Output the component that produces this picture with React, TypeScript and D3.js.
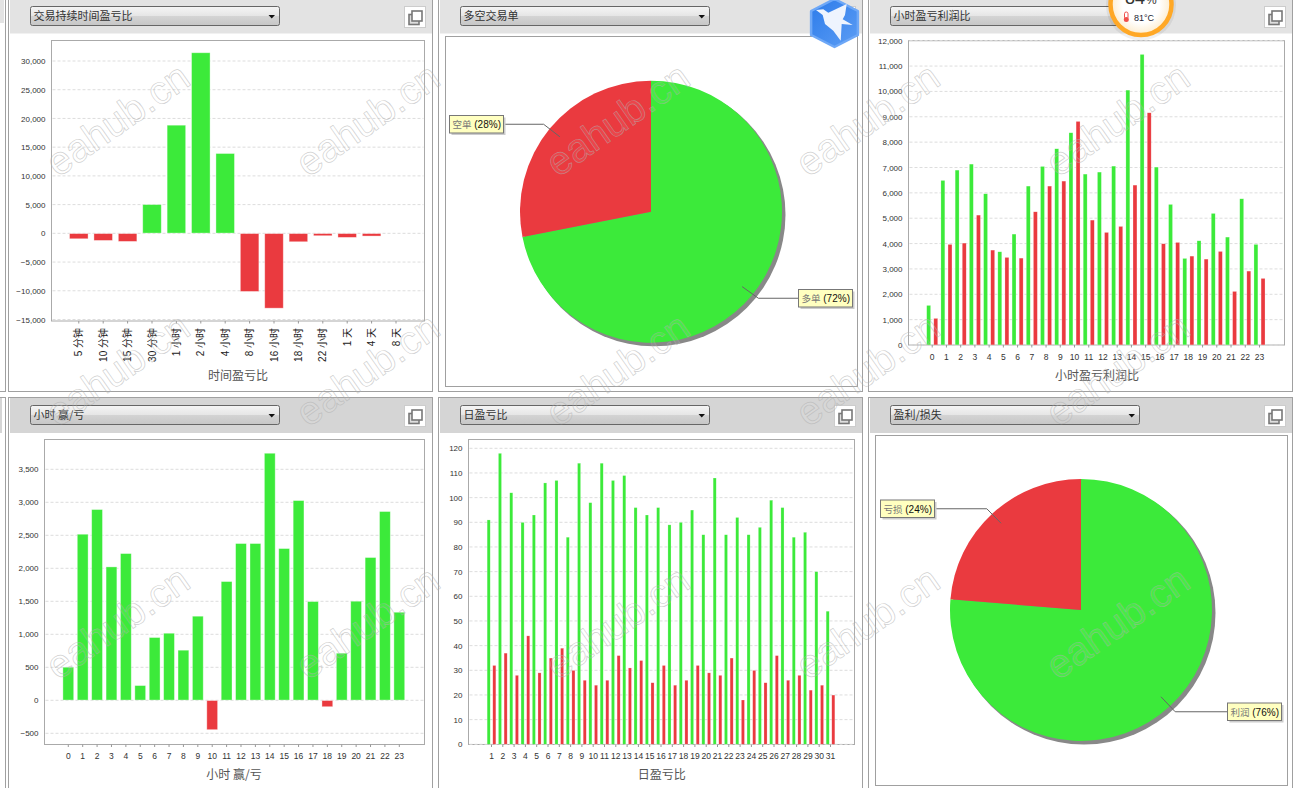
import * as d3 from "d3";
import { useEffect, useRef } from "react";

const GREEN = "#3cea3a";
const RED = "#ea3a3f";
const FONT = "'Liberation Sans', Arial, 'Noto Sans CJK SC', sans-serif";
const CJK = "'Noto Sans CJK SC', 'Liberation Sans', sans-serif";

// 时间盈亏比
const durationLabels = ["5 分钟", "10 分钟", "15 分钟", "30 分钟", "1 小时", "2 小时", "4 小时", "8 小时", "16 小时", "18 小时", "22 小时", "1 天", "4 天", "8 天"];
const durationValues = [-990, -1280, -1450, 5050, 18870, 31480, 13940, -10160, -13070, -1510, -460, -750, -520, 0];
const durationTicks = [-15000, -10000, -5000, 0, 5000, 10000, 15000, 20000, 25000, 30000];

// 小时
const hours = d3.range(0, 24).map(String);
const hourProfit = [1564, 6493, 6900, 7137, 5967, 3680, 4377, 6270, 7045, 7742, 8373, 6743, 6822, 7058, 10055, 11462, 7019, 5547, 3417, 4114, 5192, 4259, 5770, 3970];
const hourLoss = [1052, 3970, 4022, 5126, 3746, 3457, 3430, 5257, 6270, 6467, 8820, 4929, 4443, 4679, 6309, 9161, 3996, 4048, 3509, 3391, 3693, 2116, 2918, 2629];
const hourProfitTicks = d3.range(0, 13).map((d) => d * 1000);

const hourNet = [505, 2520, 2894, 2025, 2227, 227, 955, 1020, 763, 1278, -449, 1803, 2379, 2379, 3747, 2303, 3030, 1500, -101, 717, 1505, 2167, 2864, 1338];
const hourNetTicks = [-500, 0, 500, 1000, 1500, 2000, 2500, 3000, 3500];

// 日
const days = d3.range(1, 32).map(String);
const dayWins = [91, 118, 102, 90, 93, 106, 107, 84, 114, 98, 114, 107, 109, 96, 93, 96, 89, 90, 95, 85, 108, 85, 92, 85, 88, 99, 96, 84, 86, 70, 54];
const dayLosses = [32, 37, 28, 44, 29, 35, 39, 30, 26, 24, 26, 36, 31, 34, 25, 32, 24, 26, 32, 29, 28, 35, 18, 30, 25, 36, 26, 28, 22, 24, 20];
const dayTicks = d3.range(0, 13).map((d) => d * 10);

// 饼图
const longShortNames = ["多单", "空单"];
const longShortValues = [71.9, 28.1];
const profitLossNames = ["利润", "亏损"];
const profitLossValues = [76.3, 23.7];

const panelX = [8.5, 438.5, 868.5];
const selectTitles = [
  ["交易持续时间盈亏比", "多空交易单", "小时盈亏利润比"],
  ["小时 赢/亏", "日盈亏比", "盈利/损失"],
];
const watermarkX = [58, 308, 558, 808, 1058];
const watermarkY = [178, 428, 681];

const width = 1295;
const height = 788;

type Sel = d3.Selection<any, any, any, any>;

function drawFrame(svg: Sel, x0: number, row: number, title: string, showSelectArrow = true) {
  const top = row === 0 ? -2 : 397.5;
  const headTop = row === 0 ? 0 : 398;
  const headH = row === 0 ? 33.5 : 35;
  const selectY = row === 0 ? 6.5 : 405.5;
  const g = svg.append("g");
  g.append("rect").attr("x", x0).attr("y", top).attr("width", 424).attr("height", row === 0 ? 393.5 : 400).attr("fill", "#fff").attr("stroke", "#a0a0a0");
  g.append("rect").attr("x", x0 + 1.5).attr("y", headTop).attr("width", 422).attr("height", headH).attr("fill", row === 0 ? "#e3e3e3" : "#d5d5d5");
  g.append("rect").attr("x", x0 + 22).attr("y", selectY).attr("width", 249).attr("height", 19).attr("rx", 2).attr("fill", "url(#selectGrad)").attr("stroke", "#666");
  g.append("text").attr("x", x0 + 25).attr("y", selectY + 13.5).attr("font-family", CJK).attr("font-size", 11).attr("fill", "#333").text(title);
  if (showSelectArrow) {
    const ax = x0 + 260;
    const ay = selectY + 8.5;
    g.append("path").attr("d", d3.line()([[ax, ay], [ax + 6.5, ay], [ax + 3.25, ay + 3.5]]) + "Z").attr("fill", "#111");
  }
  // copy button
  const bx = x0 + 396;
  const by = selectY;
  g.append("rect").attr("x", bx).attr("y", by).attr("width", 21).attr("height", 21).attr("fill", "#fff").attr("stroke", "#ccc");
  g.append("rect").attr("x", bx + 4.5).attr("y", by + 8).attr("width", 10).attr("height", 10).attr("fill", "#ddd").attr("stroke", "#777").attr("stroke-width", 1.6);
  g.append("rect").attr("x", bx + 7.5).attr("y", by + 4.5).attr("width", 10).attr("height", 10).attr("fill", "#fff").attr("stroke", "#777").attr("stroke-width", 1.6);
}

type BarOpts = {
  box: [number, number, number, number];
  xRange: [number, number];
  yRange: [number, number];
  categories: string[];
  series: number[][];
  yTicks: number[];
  padding: number;
  title: string;
  titleX: number;
  titleY: number;
  rotateLabels?: boolean;
  labelSize: number;
};

function drawBars(svg: Sel, o: BarOpts) {
  const [left, top, right, bottom] = o.box;
  const g = svg.append("g");
  const grouped = o.series.length > 1;

  const x = d3.scaleBand<string>().domain(o.categories).range(o.xRange).paddingInner(o.padding).paddingOuter(o.padding / 2);
  const y = d3.scaleLinear().domain(d3.extent(o.yTicks) as [number, number]).range(o.yRange);
  const keys = o.series.map((_, i) => String(i));
  const inner = d3.scaleBand<string>().domain(keys).range([0, x.bandwidth()]).paddingInner(grouped ? 0.42 : 0).paddingOuter(grouped ? 0.21 : 0);
  const inset = grouped ? 0.1 : 0.25;

  g.append("rect").attr("x", left).attr("y", top).attr("width", right - left).attr("height", bottom - top).attr("fill", "#fff").attr("stroke", "#aaa");

  g.append("g")
    .selectAll("line")
    .data(o.yTicks)
    .join("line")
    .attr("x1", left + 1)
    .attr("x2", right - 1)
    .attr("y1", (d) => y(d))
    .attr("y2", (d) => y(d))
    .attr("stroke", "#ddd")
    .attr("stroke-dasharray", "3 2");

  o.series.forEach((values, i) => {
    g.append("g")
      .selectAll("rect")
      .data(values)
      .join("rect")
      .attr("x", (_, j) => x(o.categories[j])! + inner(keys[i])! + inset)
      .attr("y", (d) => Math.min(y(d), y(0)) + inset)
      .attr("width", inner.bandwidth() - inset * 2)
      .attr("height", (d) => Math.max(Math.abs(y(d) - y(0)) - inset * 2, 0))
      .attr("fill", (d) => (grouped ? (i === 0 ? GREEN : RED) : d >= 0 ? GREEN : RED))
      .attr("stroke", "#fff")
      .attr("stroke-width", grouped ? 0.5 : 0.8)
      .attr("stroke-opacity", (d) => (d === 0 ? 0 : 0.45));
  });

  const yAxis = g.append("g")
    .attr("transform", `translate(${left},0)`)
    .call(d3.axisLeft(y).tickValues(o.yTicks).tickSize(0).tickPadding(6).tickFormat(d3.format(",") as any));
  yAxis.select(".domain").remove();
  yAxis.selectAll("text").attr("font-family", FONT).attr("font-size", 8).attr("fill", "#333");

  const xAxis = g.append("g")
    .attr("transform", `translate(0,${bottom})`)
    .call(d3.axisBottom(x).tickSize(2.5).tickPadding(6));
  xAxis.select(".domain").remove();
  xAxis.selectAll("line").attr("stroke", "#999");
  const labels = xAxis.selectAll("text").attr("font-family", FONT).attr("font-size", o.labelSize).attr("fill", "#333");
  if (o.rotateLabels) {
    labels.attr("transform", "rotate(-90)").attr("text-anchor", "end").attr("x", -7).attr("y", 0).attr("dy", "0.35em").attr("fill", "#222");
  }

  g.append("text")
    .attr("x", o.titleX)
    .attr("y", o.titleY)
    .attr("text-anchor", "middle")
    .attr("dominant-baseline", "middle")
    .attr("font-family", CJK)
    .attr("font-size", 12)
    .attr("fill", "#555")
    .text(o.title);
}

type PieOpts = {
  box: [number, number, number, number];
  cx: number;
  cy: number;
  names: string[];
  values: number[];
  labelBoxes: [number, number][];
};

function drawPie(svg: Sel, o: PieOpts) {
  const [left, top, right, bottom] = o.box;
  const r = 131;
  const g = svg.append("g");
  g.append("rect").attr("x", left).attr("y", top).attr("width", right - left).attr("height", bottom - top).attr("fill", "#fff").attr("stroke", "#a0a0a0");

  const pie = d3.pie<number>().sort(null)(o.values);
  const arc = d3.arc<d3.PieArcDatum<number>>().innerRadius(0).outerRadius(r);
  const anchor = d3.arc<d3.PieArcDatum<number>>().innerRadius(118).outerRadius(118);
  const elbow = d3.arc<d3.PieArcDatum<number>>().innerRadius(139).outerRadius(139);

  const chart = g.append("g").attr("transform", `translate(${o.cx},${o.cy})`);
  chart.append("circle").attr("cx", 3).attr("cy", 3).attr("r", r + 0.5).attr("fill", "#888");
  chart.append("g")
    .selectAll("path")
    .data(pie)
    .join("path")
    .attr("d", arc as any)
    .attr("fill", (_, i) => (i === 0 ? GREEN : RED));

  pie.forEach((slice, i) => {
    const a = anchor.centroid(slice);
    const e = elbow.centroid(slice);
    const [bx, by] = o.labelBoxes[i];
    const bw = 54;
    const bh = 17.5;
    const ly = by + bh / 2;
    const edgeX = bx + (i === 0 ? 0 : bw);
    // leader goes to the box's height, the elbow follows the box
    const points: [number, number][] = [
      [o.cx + a[0], o.cy + a[1]],
      [o.cx + e[0], ly],
      [edgeX, ly],
    ];
    g.append("path").attr("d", d3.line()(points)).attr("fill", "none").attr("stroke", "#666");
    g.append("rect").attr("x", bx + 2).attr("y", by + 2).attr("width", bw).attr("height", bh).attr("fill", "#ccc");
    g.append("rect").attr("x", bx).attr("y", by).attr("width", bw).attr("height", bh).attr("fill", "#ffffc0").attr("stroke", "#777");
    const t = g.append("text").attr("x", bx + 3).attr("y", by + 12.5).attr("font-family", FONT).attr("font-size", 10);
    t.append("tspan").attr("font-family", CJK).attr("font-size", 9.5).attr("fill", "#777").text(o.names[i]);
    t.append("tspan").attr("fill", "#111").text(` (${d3.format(".0f")(o.values[i])}%)`);
  });
}

function drawWatermarks(svg: Sel) {
  const g = svg.append("g").attr("pointer-events", "none");
  watermarkY.forEach((wy) => {
    watermarkX.forEach((wx) => {
      g.append("text")
        .attr("transform", `translate(${wx},${wy}) rotate(-35)`)
        .attr("font-family", "'Liberation Sans', Arial, sans-serif")
        .attr("font-size", 40)
        .attr("fill", "#fff")
        .attr("fill-opacity", 0.06)
        .attr("stroke", "#b0b0b0")
        .attr("stroke-opacity", 0.6)
        .attr("stroke-width", 0.7)
        .text("eahub.cn");
    });
  });
}

function drawWidgets(svg: Sel) {
  // 蜂鸟图标
  const hexCx = 834.5;
  const hexCy = 23;
  const hex = d3.range(6).map((i) => {
    const a = (Math.PI / 3) * i;
    return [hexCx + 27 * Math.sin(a), hexCy - 24 * Math.cos(a)] as [number, number];
  });
  const bird = svg.append("g");
  bird.append("path").attr("d", d3.line()(hex) + "Z").attr("fill", "url(#hexGrad)").attr("stroke", "#6ea8f7").attr("stroke-width", 2.5).attr("stroke-linejoin", "round");
  bird.append("path")
    .attr("d", "M816 10 L823.3 9.3 L828.3 12.7 L846.7 4 L845 15 L842.7 19.3 L852.7 25 L841.7 24 L840.7 40.7 L833.3 30.7 L825 24 L822.7 15 Z")
    .attr("fill", "#eef4fe");

  // 温度圆
  const cx = 1141;
  const cy = 4.5;
  const w = svg.append("g");
  w.append("circle").attr("cx", cx).attr("cy", cy + 1).attr("r", 35).attr("fill", "#000").attr("fill-opacity", 0.06);
  w.append("circle").attr("cx", cx).attr("cy", cy).attr("r", 30.5).attr("fill", "url(#tempGrad)").attr("stroke", "#ffa826").attr("stroke-width", 4.5);
  w.append("text").attr("x", cx - 16).attr("y", 4).attr("font-family", FONT).attr("font-size", 18).attr("fill", "#333").text("84");
  w.append("text").attr("x", cx + 5).attr("y", 4).attr("font-family", FONT).attr("font-size", 12).attr("fill", "#333").text("%");
  w.append("text").attr("x", cx - 7).attr("y", 20.5).attr("font-family", FONT).attr("font-size", 9).attr("fill", "#223").text("81°C");
  w.append("rect").attr("x", cx - 16.5).attr("y", 12).attr("width", 3.5).attr("height", 7).attr("rx", 1.7).attr("fill", "#fff").attr("stroke", "#f0504a");
  w.append("circle").attr("cx", cx - 14.7).attr("cy", 19.5).attr("r", 2.5).attr("fill", "#f0504a");
}

export default function App() {
  const svgRef = useRef<SVGSVGElement>(null);

  useEffect(() => {
    if (!svgRef.current) return;
    const svg = d3.select(svgRef.current);
    svg.selectAll("*").remove();

    const defs = svg.append("defs");
    const sg = defs.append("linearGradient").attr("id", "selectGrad").attr("x1", 0).attr("x2", 0).attr("y1", 0).attr("y2", 1);
    sg.append("stop").attr("offset", "0").attr("stop-color", "#f5f5f5");
    sg.append("stop").attr("offset", "0.48").attr("stop-color", "#e6e6e6");
    sg.append("stop").attr("offset", "0.5").attr("stop-color", "#d4d4d4");
    sg.append("stop").attr("offset", "1").attr("stop-color", "#c6c6c6");
    const hg = defs.append("linearGradient").attr("id", "hexGrad").attr("x1", 0).attr("x2", 1).attr("y1", 0).attr("y2", 1);
    hg.append("stop").attr("offset", "0").attr("stop-color", "#2c7bea");
    hg.append("stop").attr("offset", "1").attr("stop-color", "#5c9df4");
    const tg = defs.append("radialGradient").attr("id", "tempGrad");
    tg.append("stop").attr("offset", "0.6").attr("stop-color", "#fff");
    tg.append("stop").attr("offset", "1").attr("stop-color", "#fdeccd");

    // 左边露出的上一列
    svg.append("rect").attr("x", -10).attr("y", -2).attr("width", 15.5).attr("height", 393.5).attr("fill", "#fff").attr("stroke", "#a0a0a0");
    svg.append("rect").attr("x", -10).attr("y", 0).attr("width", 14).attr("height", 23).attr("fill", "#e3e3e3");
    svg.append("rect").attr("x", -10).attr("y", 397.5).attr("width", 15.5).attr("height", 400).attr("fill", "#fff").attr("stroke", "#a0a0a0");
    svg.append("rect").attr("x", -10).attr("y", 398).attr("width", 12).attr("height", 35).attr("fill", "#d5d5d5");

    selectTitles.forEach((row, r) => row.forEach((title, c) => drawFrame(svg, panelX[c], r, title, !(r === 0 && c === 2))));

    drawBars(svg, {
      box: [51.5, 40.5, 424.5, 321],
      xRange: [66.6, 408.2],
      yRange: [319.5, 61],
      categories: durationLabels,
      series: [durationValues],
      yTicks: durationTicks,
      padding: 0.22,
      title: "时间盈亏比",
      titleX: 238,
      titleY: 377,
      rotateLabels: true,
      labelSize: 10,
    });
    drawPie(svg, {
      box: [445.5, 36.5, 857.5, 386.5],
      cx: 651,
      cy: 211.7,
      names: longShortNames,
      values: longShortValues,
      labelBoxes: [[798.5, 289.5], [449.5, 115.5]],
    });
    drawBars(svg, {
      box: [908.5, 40.7, 1284.5, 345],
      xRange: [925.1, 1266.6],
      yRange: [345, 40.7],
      categories: hours,
      series: [hourProfit, hourLoss],
      yTicks: hourProfitTicks,
      padding: 0,
      title: "小时盈亏利润比",
      titleX: 1097,
      titleY: 377,
      labelSize: 8.5,
    });
    drawBars(svg, {
      box: [44.5, 439.5, 424.5, 744.5],
      xRange: [61.1, 406.5],
      yRange: [733.3, 469.3],
      categories: hours,
      series: [hourNet],
      yTicks: hourNetTicks,
      padding: 0.215,
      title: "小时 赢/亏",
      titleX: 234,
      titleY: 776,
      labelSize: 8.5,
    });
    drawBars(svg, {
      box: [468.5, 439.5, 854.5, 744.5],
      xRange: [485.85, 836.15],
      yRange: [744.3, 448.3],
      categories: days,
      series: [dayWins, dayLosses],
      yTicks: dayTicks,
      padding: 0,
      title: "日盈亏比",
      titleX: 661.7,
      titleY: 776,
      labelSize: 8.5,
    });
    drawPie(svg, {
      box: [875.5, 435.5, 1287.5, 785.5],
      cx: 1081,
      cy: 610,
      names: profitLossNames,
      values: profitLossValues,
      labelBoxes: [[1227.5, 703], [880.5, 500]],
    });

    drawWatermarks(svg);
    drawWidgets(svg);

    // Cleanup
    return () => {
      svg.selectAll("*").remove();
    };
  }, []);

  return (
    <svg
      ref={svgRef}
      width={width}
      height={height}
      style={{ position: "absolute", left: 0, top: 0, display: "block", background: "#fff" }}
    />
  );
}
